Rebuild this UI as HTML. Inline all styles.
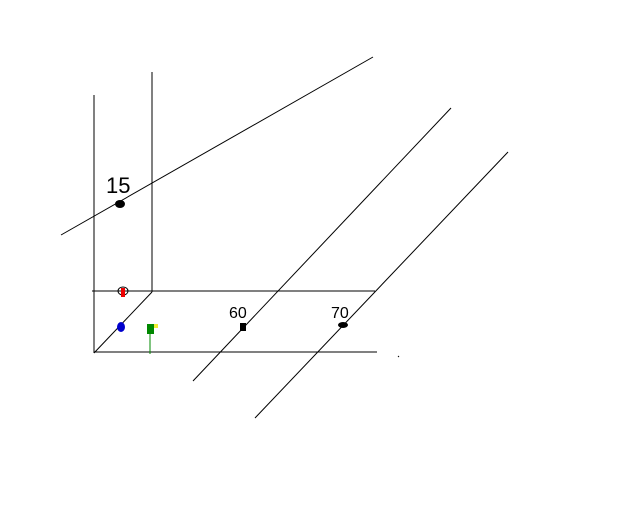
<!DOCTYPE html>
<html><head><style>html,body{margin:0;padding:0;background:#fff;}svg{display:block}</style></head>
<body>
<svg width="640" height="512" viewBox="0 0 640 512" xmlns="http://www.w3.org/2000/svg">
<rect width="640" height="512" fill="#fff"/>
<g stroke="#000" stroke-width="1" fill="none">
<line x1="94" y1="95" x2="94" y2="353"/>
<line x1="152" y1="72" x2="152" y2="292"/>
<line x1="92" y1="291" x2="375" y2="291"/>
<line x1="94" y1="352" x2="377" y2="352"/>
<line x1="94" y1="353" x2="152" y2="292"/>
<line x1="61" y1="235" x2="373" y2="57"/>
<line x1="193" y1="381" x2="451" y2="108"/>
<line x1="255" y1="418" x2="508" y2="152"/>
<line x1="398" y1="356" x2="399" y2="357"/>
</g>
<line x1="150" y1="325" x2="150" y2="354" stroke="#080" stroke-width="1"/>
<!-- marks -->
<ellipse cx="120" cy="204" rx="5" ry="4" fill="#000"/>
<ellipse cx="123" cy="291" rx="5" ry="4" fill="none" stroke="#000"/>
<rect x="121" y="288" width="4" height="9" fill="#e00"/>
<ellipse cx="121" cy="327" rx="4" ry="5" fill="#00c"/>
<rect x="147" y="324" width="7" height="10" fill="#080"/>
<rect x="154" y="324" width="4" height="4" fill="#ee3"/>
<rect x="240" y="323" width="6" height="8" fill="#000"/>
<ellipse cx="343" cy="325" rx="5" ry="3" fill="#000"/>
<g font-family="Liberation Sans, sans-serif" font-size="22" fill="#000">
<text x="106" y="193">15</text>
<text x="229" y="318" font-size="16">60</text>
<text x="331" y="318" font-size="16">70</text>
</g>
</svg>
</body></html>
